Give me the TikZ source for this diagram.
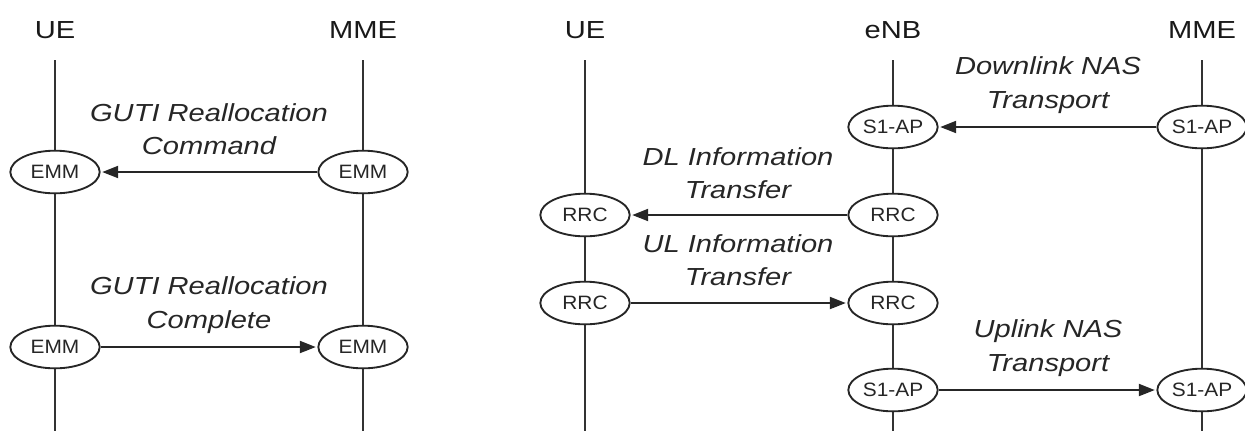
\documentclass[tikz,border=0pt]{standalone}
\usepackage{fontspec}
\setmainfont{Liberation Sans}[FakeStretch=1.18]
\newfontfamily\ellfont{Liberation Sans}[FakeStretch=1.08]
\usetikzlibrary{shapes.geometric,arrows.meta}
\tikzset{
  ent/.style={font=\fontsize{18.5}{20}\selectfont, inner sep=0pt, text=black!90},
  life/.style={draw=black!80, line width=1.7pt},
  proto/.style={ellipse, draw=black!85, line width=1.4pt, fill=white,
    minimum width=67pt, minimum height=32pt, inner sep=0pt,
    font=\ellfont\fontsize{14.5}{16}\selectfont, text=black!85},
  msg/.style={draw=black!85, line width=1.6pt, shorten >=1.2pt,
    -{Triangle[length=12pt,width=9pt]}},
  lbl/.style={font=\itshape\fontsize{18.5}{25}\selectfont, align=center, inner sep=0pt, text=black!85}
}
\begin{document}
\begin{tikzpicture}[x=0.75pt,y=-0.75pt]
\useasboundingbox (0,0) rectangle (1245,430);
% ---------- left panel ----------
\node[ent] (lue) at (55,30) {UE};
\node[ent] (lmme) at (363,30) {MME};
\coordinate (lueT) at (55,60); \coordinate (lueB) at (55,431);
\coordinate (lmmeT) at (363,60); \coordinate (lmmeB) at (363,431);
\draw[life] (lueT) -- (lueB);
\draw[life] (lmmeT) -- (lmmeB);
\node[proto] (e1) at (55,172) {EMM};
\node[proto] (e2) at (363,172) {EMM};
\node[proto] (e3) at (55,347) {EMM};
\node[proto] (e4) at (363,347) {EMM};
\draw[msg] (e2) -- (e1);
\draw[msg] (e3) -- (e4);
\node[lbl] (l1) at (209,129) {GUTI Reallocation\\Command};
\node[lbl] (l2) at (209,305) {GUTI Reallocation\\Complete};
% ---------- right panel ----------
\node[ent] (rue) at (585,30) {UE};
\node[ent] (renb) at (893,30) {eNB};
\node[ent] (rmme) at (1202,30) {MME};
\coordinate (rueT) at (585,60); \coordinate (rueB) at (585,431);
\coordinate (renbT) at (893,60); \coordinate (renbB) at (893,431);
\coordinate (rmmeT) at (1202,60); \coordinate (rmmeB) at (1202,431);
\draw[life] (rueT) -- (rueB);
\draw[life] (renbT) -- (renbB);
\draw[life] (rmmeT) -- (rmmeB);
\node[proto] (s1) at (893,127) {S1-AP};
\node[proto] (s2) at (1202,127) {S1-AP};
\node[proto] (r1) at (585,215) {RRC};
\node[proto] (r2) at (893,215) {RRC};
\node[proto] (r3) at (585,303) {RRC};
\node[proto] (r4) at (893,303) {RRC};
\node[proto] (s3) at (893,390) {S1-AP};
\node[proto] (s4) at (1202,390) {S1-AP};
\draw[msg] (s2) -- (s1);
\draw[msg] (r2) -- (r1);
\draw[msg] (r3) -- (r4);
\draw[msg] (s3) -- (s4);
\node[lbl] (m1) at (1048,85) {Downlink NAS\\Transport};
\node[lbl] (m2) at (738,173) {DL Information\\Transfer};
\node[lbl] (m3) at (738,260) {UL Information\\Transfer};
\node[lbl] (m4) at (1048,348) {Uplink NAS\\Transport};
\end{tikzpicture}
\end{document}
